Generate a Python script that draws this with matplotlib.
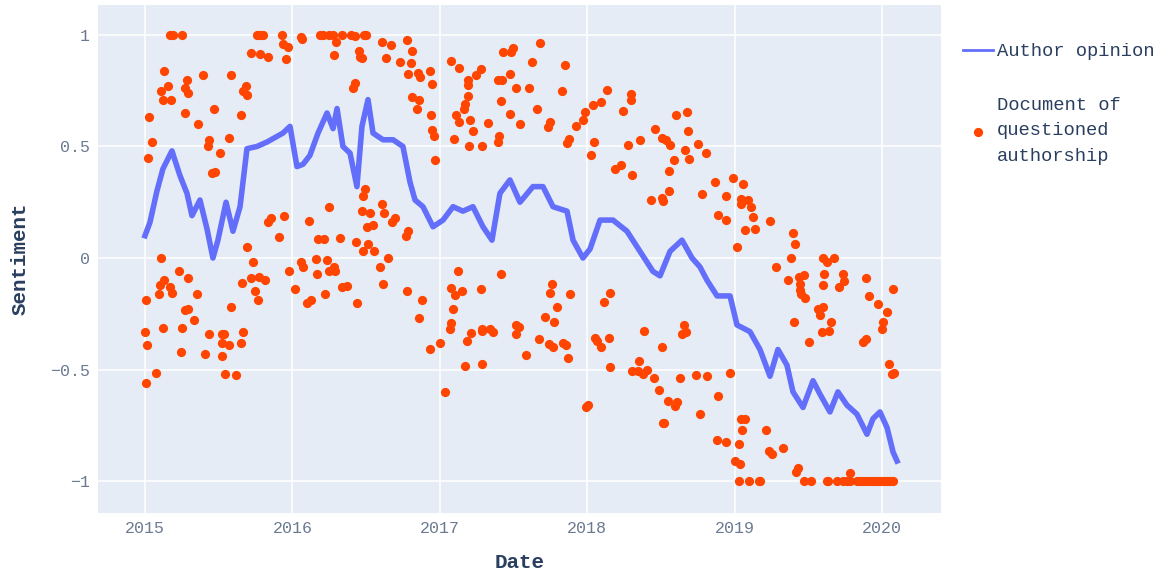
import numpy as np
import pandas as pd
import matplotlib
matplotlib.use('Agg')
import matplotlib.pyplot as plt

# Author opinion (decimal year, sentiment)
opinion_t = [2015.000, 2015.034, 2015.081, 2015.122, 2015.183, 2015.237, 2015.285, 2015.319,
             2015.373, 2015.421, 2015.461, 2015.495, 2015.550, 2015.597, 2015.645, 2015.692,
             2015.760, 2015.828, 2015.936, 2015.984, 2016.031, 2016.072, 2016.119, 2016.174,
             2016.235, 2016.276, 2016.303, 2016.343, 2016.391, 2016.438, 2016.472, 2016.513,
             2016.547, 2016.615, 2016.683, 2016.750, 2016.798, 2016.832, 2016.886, 2016.954,
             2017.022, 2017.090, 2017.157, 2017.225, 2017.293, 2017.354, 2017.408, 2017.476,
             2017.544, 2017.632, 2017.700, 2017.768, 2017.863, 2017.904, 2017.971, 2018.019,
             2018.087, 2018.175, 2018.270, 2018.358, 2018.446, 2018.494, 2018.562, 2018.643,
             2018.711, 2018.765, 2018.813, 2018.881, 2018.969, 2019.016, 2019.104, 2019.172,
             2019.240, 2019.294, 2019.355, 2019.396, 2019.464, 2019.532, 2019.579, 2019.647,
             2019.701, 2019.763, 2019.830, 2019.898, 2019.939, 2019.986, 2020.034, 2020.075,
             2020.102]
opinion_v = [0.10, 0.16, 0.30, 0.40, 0.48, 0.37, 0.29, 0.19,
             0.26, 0.13, 0.00, 0.08, 0.25, 0.12, 0.23, 0.49,
             0.50, 0.52, 0.56, 0.59, 0.41, 0.42, 0.46, 0.56,
             0.65, 0.58, 0.67, 0.50, 0.47, 0.32, 0.59, 0.71,
             0.56, 0.53, 0.53, 0.50, 0.34, 0.26, 0.23, 0.14,
             0.17, 0.23, 0.21, 0.23, 0.14, 0.08, 0.29, 0.35,
             0.25, 0.32, 0.32, 0.23, 0.21, 0.08, 0.00, 0.04,
             0.17, 0.17, 0.12, 0.03, -0.06, -0.08, 0.03, 0.08,
             0.00, -0.04, -0.10, -0.17, -0.17, -0.30, -0.33, -0.41,
             -0.53, -0.41, -0.48, -0.60, -0.67, -0.55, -0.61, -0.69,
             -0.60, -0.66, -0.70, -0.79, -0.72, -0.69, -0.76, -0.87,
             -0.91]

# Documents of questioned authorship (decimal year, sentiment)
doc_t = [
    2015.170, 2015.192, 2015.249, 2015.758, 2015.780, 2015.798, 2015.927, 2016.056, 2016.063,
    2015.934, 2015.968, 2015.957, 2015.717, 2015.780, 2015.832, 2015.131, 2015.287, 2015.396,
    2015.585, 2015.156, 2015.107, 2015.124, 2015.174, 2015.271, 2015.290, 2015.685, 2015.663,
    2015.690, 2015.027, 2015.273, 2015.468, 2015.653, 2015.362, 2015.045, 2015.018, 2015.436,
    2015.429, 2015.572, 2015.509, 2015.452, 2015.475, 2015.853, 2015.836, 2015.943, 2016.113,
    2015.911, 2016.176, 2015.692, 2015.107, 2015.733, 2016.058, 2016.074, 2016.158, 2015.231,
    2015.294, 2015.129, 2015.102, 2015.170, 2015.183, 2015.097, 2015.355, 2015.007, 2015.719,
    2015.771, 2015.812, 2015.660, 2015.746, 2015.767, 2015.977, 2016.167, 2016.020, 2016.101,
    2016.128, 2015.581, 2015.271, 2015.292, 2015.334, 2015.000, 2015.120, 2015.249, 2015.012,
    2015.242, 2015.434, 2015.520, 2015.536, 2015.520, 2015.572, 2015.409, 2015.520, 2015.663,
    2015.651, 2015.075, 2015.007, 2015.541, 2015.615,
    2016.187, 2016.210, 2016.250, 2016.273, 2016.336, 2016.398, 2016.425, 2016.488, 2016.499,
    2016.298, 2016.280, 2016.450, 2016.459, 2016.472, 2016.608, 2016.669, 2016.775, 2016.811,
    2016.637, 2016.728, 2016.805, 2016.782, 2016.852, 2016.866, 2016.933, 2016.949, 2016.409,
    2016.427, 2016.811, 2016.861, 2016.843, 2016.940, 2016.947, 2016.959, 2016.967, 2017.074,
    2017.132, 2017.189, 2017.193, 2017.248, 2017.279, 2017.193, 2017.173, 2017.164, 2017.108,
    2017.132, 2017.207, 2017.225, 2017.327, 2017.096, 2017.196, 2017.284, 2017.402, 2017.395,
    2017.417, 2017.476, 2017.397, 2017.424, 2017.478, 2017.519, 2017.429, 2017.485, 2017.494,
    2017.544,
    2016.495, 2016.479, 2016.246, 2016.474, 2016.524, 2016.610, 2016.621, 2016.504, 2016.547,
    2016.694, 2016.674, 2016.782, 2016.773, 2016.214, 2016.323, 2016.431, 2016.511, 2016.481,
    2016.556, 2016.649, 2016.594, 2016.233, 2016.250, 2016.284, 2016.289, 2017.121, 2017.417,
    2016.617, 2016.334, 2016.372, 2016.223, 2016.436, 2016.775, 2016.881, 2016.857, 2016.935,
    2017.001, 2017.035, 2017.076, 2017.105, 2017.153, 2017.281, 2017.089, 2017.074, 2017.071,
    2017.212, 2017.182, 2017.288, 2017.284, 2017.338, 2017.363, 2017.519, 2017.517, 2017.173,
    2017.288,
    2017.680, 2017.623, 2017.849, 2017.607, 2017.829, 2017.661, 2017.734, 2017.750, 2017.861,
    2017.876, 2017.922, 2017.969, 2017.983, 2018.041, 2018.094, 2018.132, 2018.048, 2018.024,
    2018.191, 2018.227, 2018.306, 2018.245, 2018.295, 2018.297, 2018.277, 2018.358, 2018.460,
    2018.505, 2018.532, 2018.564, 2018.600, 2018.675, 2018.686, 2018.661, 2018.688, 2018.589,
    2018.553, 2018.754, 2018.804, 2018.433, 2018.505, 2018.512, 2018.553, 2018.781, 2018.869,
    2018.889,
    2017.761, 2017.748, 2017.885, 2017.795, 2017.716, 2017.773, 2017.535, 2017.673, 2017.741,
    2017.770, 2017.838, 2017.856, 2017.587, 2017.872, 2017.992, 2018.005, 2018.155, 2018.114,
    2018.053, 2018.068, 2018.094, 2018.150, 2018.153, 2018.385, 2018.507, 2018.351, 2018.302,
    2018.342, 2018.404, 2018.376, 2018.453, 2018.485, 2018.550, 2018.611, 2018.598, 2018.512,
    2018.521, 2018.654, 2018.670, 2018.643, 2018.631, 2018.740, 2018.815, 2018.767, 2018.889,
    2018.883,
    2018.987, 2019.055, 2018.944, 2018.944, 2019.041, 2019.043, 2019.093, 2019.109, 2019.127,
    2019.138, 2019.072, 2019.242, 2019.014, 2019.394, 2019.410, 2019.283, 2019.383, 2019.602,
    2019.625, 2019.672, 2019.608, 2019.733, 2019.364, 2019.437, 2019.473, 2019.891,
    2019.444, 2019.446, 2019.449, 2019.479, 2019.600, 2019.706, 2019.742, 2019.912, 2019.973,
    2020.032, 2020.076, 2020.007, 2020.002, 2019.564, 2019.602, 2019.579, 2019.652, 2019.595,
    2019.642, 2019.403, 2019.505, 2019.871, 2019.889, 2020.047, 2020.066, 2020.083, 2018.969,
    2019.043, 2019.072, 2019.050, 2019.213, 2018.939, 2019.032, 2019.003, 2019.034, 2019.233,
    2019.256, 2019.326, 2019.428, 2019.414,
    2019.030, 2019.095, 2019.167, 2019.172, 2019.471, 2019.516, 2019.625, 2019.636, 2019.697,
    2019.737, 2019.760, 2019.783, 2019.828, 2019.851, 2019.871, 2019.891, 2019.912, 2019.932,
    2019.952, 2019.973, 2019.993, 2020.013, 2020.034, 2020.054, 2020.076, 2019.783,
]
doc_v = [
    1.0, 1.0, 1.0, 1.0, 1.0, 1.0, 1.0, 0.99, 0.98,
    0.96, 0.945, 0.89, 0.92, 0.915, 0.90, 0.84, 0.80, 0.82,
    0.82, 0.77, 0.75, 0.71, 0.71, 0.76, 0.74, 0.77, 0.75,
    0.73, 0.63, 0.65, 0.67, 0.64, 0.60, 0.52, 0.45, 0.53,
    0.50, 0.54, 0.47, 0.38, 0.385, 0.18, 0.16, 0.19, 0.165,
    0.095, 0.085, 0.05, 0.0, -0.02, -0.02, -0.04, -0.006, -0.06,
    -0.09, -0.10, -0.12, -0.13, -0.155, -0.16, -0.16, -0.19, -0.09,
    -0.085, -0.10, -0.11, -0.15, -0.19, -0.06, -0.07, -0.14, -0.20,
    -0.19, -0.22, -0.235, -0.23, -0.28, -0.33, -0.315, -0.315, -0.39,
    -0.42, -0.34, -0.34, -0.34, -0.38, -0.39, -0.43, -0.44, -0.33,
    -0.38, -0.515, -0.56, -0.52, -0.525,
    1.0, 1.0, 1.0, 1.0, 1.0, 1.0, 0.995, 1.0, 1.0,
    0.97, 0.91, 0.93, 0.90, 0.895, 0.97, 0.955, 0.975, 0.93,
    0.895, 0.88, 0.875, 0.825, 0.83, 0.81, 0.84, 0.78, 0.76,
    0.785, 0.72, 0.71, 0.67, 0.64, 0.575, 0.545, 0.44, 0.885,
    0.85, 0.80, 0.775, 0.82, 0.845, 0.725, 0.69, 0.67, 0.64,
    0.61, 0.62, 0.57, 0.605, 0.535, 0.50, 0.50, 0.545, 0.52,
    0.705, 0.645, 0.80, 0.80, 0.825, 0.76, 0.925, 0.925, 0.94,
    0.60,
    0.31, 0.28, 0.23, 0.21, 0.20, 0.24, 0.20, 0.14, 0.15,
    0.18, 0.16, 0.12, 0.10, 0.085, 0.09, 0.07, 0.065, 0.03,
    0.03, 0.0, -0.04, -0.01, -0.06, -0.04, -0.06, -0.06, -0.07,
    -0.115, -0.13, -0.125, -0.16, -0.20, -0.15, -0.19, -0.27, -0.41,
    -0.38, -0.60, -0.135, -0.165, -0.15, -0.14, -0.23, -0.29, -0.32,
    -0.335, -0.37, -0.32, -0.325, -0.32, -0.33, -0.30, -0.34, -0.485,
    -0.475,
    0.965, 0.88, 0.865, 0.76, 0.75, 0.67, 0.585, 0.61, 0.515,
    0.535, 0.59, 0.62, 0.655, 0.685, 0.70, 0.755, 0.52, 0.46,
    0.40, 0.415, 0.37, 0.66, 0.735, 0.71, 0.505, 0.53, 0.58,
    0.54, 0.53, 0.505, 0.64, 0.655, 0.57, 0.485, 0.445, 0.44,
    0.39, 0.51, 0.47, 0.26, 0.27, 0.255, 0.30, 0.285, 0.34,
    0.195,
    -0.115, -0.155, -0.16, -0.22, -0.265, -0.285, -0.31, -0.365, -0.385,
    -0.40, -0.38, -0.39, -0.435, -0.45, -0.67, -0.66, -0.155, -0.195,
    -0.36, -0.37, -0.40, -0.36, -0.49, -0.325, -0.40, -0.46, -0.505,
    -0.505, -0.50, -0.52, -0.54, -0.59, -0.64, -0.645, -0.665, -0.74,
    -0.74, -0.30, -0.33, -0.34, -0.54, -0.525, -0.53, -0.70, -0.62,
    -0.815,
    0.36, 0.33, 0.28, 0.17, 0.265, 0.24, 0.26, 0.23, 0.185,
    0.13, 0.125, 0.165, 0.05, 0.11, 0.065, -0.04, 0.0, 0.0,
    -0.02, 0.0, -0.07, -0.07, -0.10, -0.085, -0.075, -0.09,
    -0.115, -0.145, -0.16, -0.18, -0.12, -0.13, -0.105, -0.17, -0.205,
    -0.24, -0.14, -0.285, -0.32, -0.23, -0.22, -0.255, -0.285, -0.33,
    -0.325, -0.285, -0.375, -0.375, -0.365, -0.475, -0.52, -0.515, -0.515,
    -0.72, -0.72, -0.77, -0.77, -0.825, -0.835, -0.91, -0.925, -0.865,
    -0.88, -0.85, -0.94, -0.96,
    -1.0, -1.0, -1.0, -1.0, -1.0, -1.0, -1.0, -1.0, -1.0,
    -1.0, -1.0, -1.0, -1.0, -1.0, -1.0, -1.0, -1.0, -1.0,
    -1.0, -1.0, -1.0, -1.0, -1.0, -1.0, -1.0, -0.965,
]

year_ticks = [2015, 2016, 2017, 2018, 2019, 2020]
sent_ticks = [1, 0.5, 0, -0.5, -1]
sent_labels = ['1', '0.5', '0', '\u22120.5', '\u22121']


def to_date(t):
    t = np.asarray(t, dtype=float)
    return pd.Timestamp('2015-01-01') + pd.to_timedelta((t - 2015) * 365.25, unit='D')


mono = ['Liberation Mono', 'DejaVu Sans Mono']
plt.rcParams['font.family'] = mono

fig = plt.figure(figsize=(11.73, 5.77), dpi=100)
ax = fig.add_axes([0.0835, 0.1109, 0.7187, 0.8804])
ax.set_facecolor('#E5ECF6')
for s in ax.spines.values():
    s.set_visible(False)

ax.plot(to_date(opinion_t), opinion_v, color='#636EFA', lw=4, label='Author opinion', zorder=2)
ax.scatter(to_date(doc_t), doc_v, s=44, color='#FF4500', linewidths=0,
           label='Document of\nquestioned\nauthorship', zorder=3)

ax.set_xlim(to_date([2014.681])[0], to_date([2020.400])[0])
ax.set_ylim(-1.143, 1.134)
ax.set_xticks(to_date(year_ticks))
ax.set_xticklabels([str(y) for y in year_ticks])
ax.set_yticks(sent_ticks)
ax.set_yticklabels(sent_labels)
ax.grid(True, color='white', lw=1.1)
ax.set_axisbelow(True)
ax.tick_params(length=0, labelsize=12, labelcolor='#6b7a90', pad=6)

ax.set_xlabel('Date', fontsize=15, fontweight='bold', color='#2a3f5f', labelpad=12)
ax.set_ylabel('Sentiment', fontsize=15, fontweight='bold', color='#2a3f5f', labelpad=14)

leg = ax.legend(loc='upper left', bbox_to_anchor=(1.006, 0.958), frameon=False,
                fontsize=13.5, labelcolor='#2a3f5f', handlelength=1.6, handletextpad=0.2,
                labelspacing=1.95, markerscale=1.0)
leg.get_lines()[0].set_linewidth(2)
for txt in leg.get_texts():
    txt.set_linespacing(1.65)

fig.savefig('out.png', dpi=100)
